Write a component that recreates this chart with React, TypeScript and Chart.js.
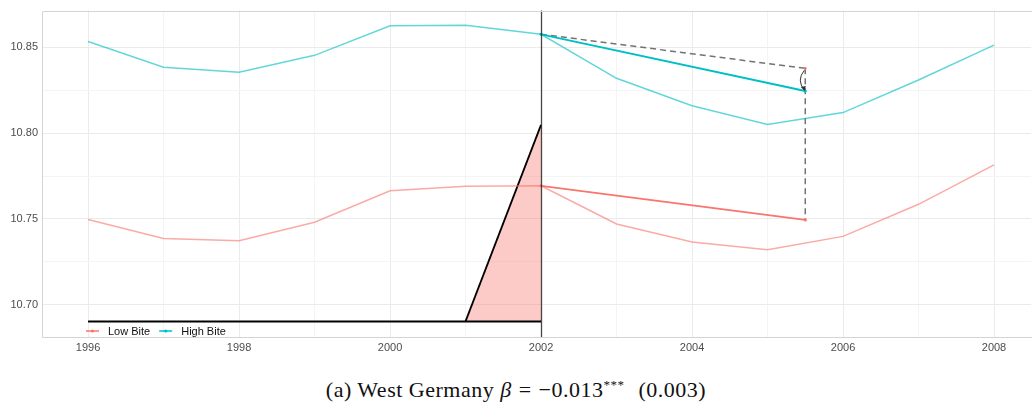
import React, { useEffect, useRef } from "react";
import { Chart, registerables } from "chart.js";

Chart.register(...registerables);

const years = [1996, 1997, 1998, 1999, 2000, 2001, 2002, 2003, 2004, 2005, 2006, 2007, 2008];
const lowBite = [10.7497, 10.7385, 10.7373, 10.748, 10.7664, 10.769, 10.7693, 10.747, 10.7365, 10.732, 10.7398, 10.7585, 10.7815];
const highBite = [10.8535, 10.8385, 10.8356, 10.8454, 10.8627, 10.863, 10.8577, 10.832, 10.816, 10.805, 10.812, 10.831, 10.8514];

const cfYears = [2002, 2005.5];
const lowCf = [10.7693, 10.7494];
const highCf = [10.8577, 10.8246];
const parallelTrend = [10.8577, 10.8378];

const baseYears = [1996, 2002];
const baseLevel = [10.6902, 10.6902];
const rampYears = [2001, 2002];
const rampLevel = [10.6902, 10.8048];

const treatYear = 2002;
const xTickYears = years;
const yTicks = [10.7, 10.725, 10.75, 10.775, 10.8, 10.825, 10.85];
const legendLabels = ["Low Bite", "High Bite"];

const RED = "#F8766D";
const TEAL = "#00BFC4";
const RED_A = "rgba(248,118,109,0.62)";
const TEAL_A = "rgba(0,191,196,0.62)";
const GRID_MAJOR = "#ebebeb";
const GRID_MINOR = "#f4f4f4";
const TICK_COLOR = "#4d4d4d";
const FONT = "'Liberation Sans', Arial, sans-serif";

const pts = (xs: number[], ys: number[]) => xs.map((x, i) => ({ x, y: ys[i] }));

const overlayPlugin = {
  id: "overlay",
  afterDraw(chart: any) {
    const { ctx, chartArea, scales, width } = chart;
    const xs = scales.x;
    const ys = scales.y;
    ctx.save();
    // vertical treatment line
    const tx = Math.round(xs.getPixelForValue(treatYear)) + 0.5;
    ctx.strokeStyle = "rgba(40,40,40,0.85)";
    ctx.lineWidth = 1.3;
    ctx.beginPath();
    ctx.moveTo(tx, chartArea.top);
    ctx.lineTo(tx, chartArea.bottom);
    ctx.stroke();

    // curved arrow from parallel trend end to high-bite counterfactual end
    const ax = xs.getPixelForValue(cfYears[1]);
    const y1 = ys.getPixelForValue(parallelTrend[1]) + 2;
    const y2 = ys.getPixelForValue(highCf[1]) - 1;
    ctx.strokeStyle = "#333";
    ctx.lineWidth = 1;
    ctx.beginPath();
    ctx.moveTo(ax - 1, y1);
    ctx.quadraticCurveTo(ax - 9, (y1 + y2) / 2, ax - 1, y2);
    ctx.stroke();
    ctx.fillStyle = "#333";
    ctx.beginPath();
    ctx.moveTo(ax - 0.5, y2 + 1);
    ctx.lineTo(ax - 4.5, y2 - 3);
    ctx.lineTo(ax + 0.5, y2 - 4);
    ctx.closePath();
    ctx.fill();

    // panel border (top, left, bottom)
    ctx.strokeStyle = "#d4d4d4";
    ctx.lineWidth = 1;
    const L = Math.round(chartArea.left) + 0.5;
    const T = Math.round(chartArea.top) + 0.5;
    const B = Math.round(chartArea.bottom) + 0.5;
    ctx.beginPath();
    ctx.moveTo(width, T);
    ctx.lineTo(L, T);
    ctx.lineTo(L, B);
    ctx.lineTo(width, B);
    ctx.stroke();

    // legend
    ctx.font = `11px ${FONT}`;
    ctx.textBaseline = "middle";
    const ly = 331;
    let lx = 86;
    const cols = [RED, TEAL];
    legendLabels.forEach((lab, i) => {
      ctx.strokeStyle = cols[i];
      ctx.fillStyle = cols[i];
      ctx.lineWidth = 1.5;
      ctx.beginPath();
      ctx.moveTo(lx, ly);
      ctx.lineTo(lx + 13, ly);
      ctx.stroke();
      ctx.beginPath();
      ctx.arc(lx + 6.5, ly, 1.6, 0, Math.PI * 2);
      ctx.fill();
      ctx.fillStyle = "#111";
      ctx.fillText(lab, lx + 22, ly + 0.5);
      lx += 22 + ctx.measureText(lab).width + 9;
    });
    ctx.restore();
  },
};

export default function App() {
  const ref = useRef<HTMLCanvasElement>(null);
  useEffect(() => {
    if (!ref.current) return;
    const chart = new Chart(ref.current, {
      type: "scatter",
      data: {
        datasets: [
          {
            data: pts(cfYears, highCf),
            borderColor: TEAL,
            backgroundColor: TEAL,
            borderWidth: 1.8,
            showLine: true,
            pointRadius: 1.6,
            pointBorderWidth: 0,
          },
          {
            data: pts(cfYears, lowCf),
            borderColor: RED,
            backgroundColor: RED,
            borderWidth: 1.8,
            showLine: true,
            pointRadius: 1.6,
            pointBorderWidth: 0,
          },
          {
            data: pts(cfYears, parallelTrend),
            borderColor: "rgba(90,90,90,0.85)",
            backgroundColor: RED,
            borderWidth: 1.5,
            borderDash: [6, 4],
            showLine: true,
            pointRadius: [0, 1.4],
            pointBorderWidth: 0,
          },
          {
            data: pts([cfYears[1], cfYears[1]], [parallelTrend[1], lowCf[1]]),
            borderColor: "rgba(90,90,90,0.85)",
            borderWidth: 1.5,
            borderDash: [6, 4],
            showLine: true,
            pointRadius: 0,
          },
          {
            data: pts(years, highBite),
            borderColor: TEAL_A,
            borderWidth: 1.5,
            showLine: true,
            pointRadius: 0,
          },
          {
            data: pts(years, lowBite),
            borderColor: RED_A,
            borderWidth: 1.5,
            showLine: true,
            pointRadius: 0,
          },
          {
            data: pts(baseYears, baseLevel),
            borderColor: "#000",
            borderWidth: 2,
            showLine: true,
            pointRadius: 0,
          },
          {
            data: pts(rampYears, rampLevel),
            borderColor: "#000",
            borderWidth: 1.8,
            backgroundColor: "rgba(248,118,109,0.38)",
            fill: { value: baseLevel[0] },
            showLine: true,
            pointRadius: 0,
          },
        ],
      },
      options: {
        responsive: false,
        animation: false,
        layout: { padding: { top: 7, right: 0, left: 0, bottom: 0 } },
        plugins: { legend: { display: false }, tooltip: { enabled: false } },
        scales: {
          x: {
            type: "linear",
            min: 1995.39,
            max: 2008.49,
            afterFit: (a: any) => {
              a.height = 23;
            },
            afterBuildTicks: (a: any) => {
              a.ticks = xTickYears.map((v) => ({ value: v }));
            },
            border: { display: false },
            grid: {
              drawTicks: false,
              color: (c: any) => (c.tick && c.tick.value % 2 === 0 ? GRID_MAJOR : GRID_MINOR),
              lineWidth: 1,
            },
            ticks: {
              autoSkip: false,
              maxRotation: 0,
              padding: 4,
              color: TICK_COLOR,
              font: { family: FONT, size: 11 },
              callback: (v: any) => (Number(v) % 2 === 0 ? String(v) : ""),
            },
          },
          y: {
            type: "linear",
            min: 10.6811,
            max: 10.8715,
            afterFit: (a: any) => {
              a.width = 42;
            },
            afterBuildTicks: (a: any) => {
              a.ticks = yTicks.map((v) => ({ value: v }));
            },
            border: { display: false },
            grid: {
              drawTicks: false,
              color: (c: any) => {
                const v = c.tick ? c.tick.value : 0;
                return Math.abs(v * 20 - Math.round(v * 20)) < 1e-6 ? GRID_MAJOR : GRID_MINOR;
              },
              lineWidth: 1,
            },
            ticks: {
              padding: 4,
              color: TICK_COLOR,
              font: { family: FONT, size: 11 },
              callback: (v: any) => {
                const n = Number(v);
                return Math.abs(n * 20 - Math.round(n * 20)) < 1e-6 ? n.toFixed(2) : "";
              },
            },
          },
        },
      },
      plugins: [overlayPlugin],
    } as any);
    return () => chart.destroy();
  }, []);

  return (
    <div style={{ position: "absolute", left: 0, top: 0, width: 1032, height: 409, background: "#fff", overflow: "hidden" }}>
      <canvas ref={ref} width={1035} height={360} style={{ display: "block", width: 1035, height: 360 }} />
      <div
        style={{
          position: "absolute",
          left: 0,
          top: 377,
          width: 1032,
          textAlign: "center",
          fontFamily: "'Liberation Serif', 'Times New Roman', serif",
          fontSize: 22,
          letterSpacing: "0.5px",
          color: "#111",
          lineHeight: "26px",
          whiteSpace: "nowrap",
        }}
      >
        <span>(a) West Germany </span>
        <i>β</i>
        <span style={{ margin: "0 7px" }}>=</span>
        <span>−0.013</span>
        <sup style={{ fontSize: 13, verticalAlign: "8px", lineHeight: 0 }}>***</sup>
        <span style={{ marginLeft: 14 }}>(0.003)</span>
      </div>
    </div>
  );
}
